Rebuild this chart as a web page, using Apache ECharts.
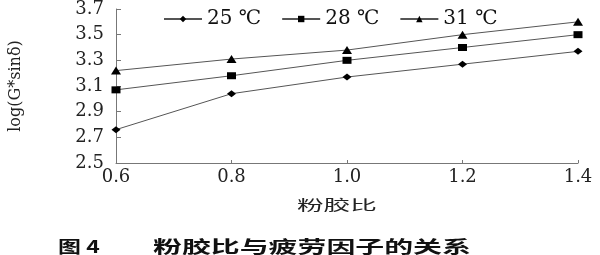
<!DOCTYPE html>
<html><head><meta charset="utf-8">
<script src="https://cdn.jsdelivr.net/npm/echarts@6/dist/echarts.min.js"></script>
<style>html,body{margin:0;padding:0;background:#fff}#c{width:600px;height:255px}</style>
</head><body><div id="c"></div>
<script>
var xValues = [0.6, 0.8, 1.0, 1.2, 1.4];
var s25 = [2.76, 3.04, 3.17, 3.27, 3.37];
var s28 = [3.07, 3.18, 3.30, 3.40, 3.50];
var s31 = [3.22, 3.31, 3.38, 3.50, 3.60];
var seriesNames = ['25 ℃', '28 ℃', '31 ℃'];
var xTitle = '粉胶比';
var yTitle = 'log(G*sinδ)';
var captionNo = '图 4';
var captionText = '粉胶比与疲劳因子的关系';

var chart = echarts.init(document.getElementById('c'));
var serif = '"DejaVu Serif","Liberation Serif",serif';
var cjk = '"Noto Sans CJK SC",sans-serif';
function pairs(arr){ return arr.map(function(v,i){ return [xValues[i], v]; }); }
var symbols = ['diamond', 'rect', 'triangle'];
var sizes = [[9,7],[9,7],[10,8]];
var data = [s25, s28, s31];
chart.setOption({
  animation: false,
  grid: {left: 114, right: 22, top: 5, bottom: 92},
  legend: {
    left: 158, top: 4, itemWidth: 38, itemHeight: 8, itemGap: 20,
    textStyle: {fontFamily: serif, fontSize: 20, color: '#111'},
    data: seriesNames
  },
  xAxis: {
    type: 'value', min: 0.6, max: 1.4, interval: 0.2,
    axisLine: {lineStyle: {color: '#777'}},
    axisTick: {inside: true, length: 3, lineStyle: {color: '#777'}},
    axisLabel: {fontFamily: serif, fontSize: 18, color: '#222', margin: 5,
      formatter: function(v){ return v.toFixed(1); }},
    splitLine: {show: false}
  },
  yAxis: {
    type: 'value', min: 2.5, max: 3.7, interval: 0.2,
    name: yTitle, nameLocation: 'middle', nameGap: 92, nameRotate: 90,
    nameTextStyle: {fontFamily: serif, fontSize: 16, color: '#222'},
    axisLine: {show: true, lineStyle: {color: '#777'}},
    axisTick: {show: true, inside: true, length: 5, lineStyle: {color: '#777'}},
    axisLabel: {fontFamily: serif, fontSize: 18, color: '#222', margin: 12,
      formatter: function(v){ return v.toFixed(1); }},
    splitLine: {show: false}
  },
  graphic: [
    {type: 'text', x: 297, y: 198, scaleX: 1.9,
      style: {text: xTitle, font: '14px ' + cjk, fill: '#222'}},
    {type: 'text', x: 58, y: 238, scaleX: 1.35,
      style: {text: captionNo, font: 'bold 17px ' + cjk, fill: '#111'}},
    {type: 'text', x: 153, y: 238, scaleX: 1.7,
      style: {text: captionText, font: 'bold 17px ' + cjk, fill: '#111'}}
  ],
  series: data.map(function(d,i){
    return {
      name: seriesNames[i], type: 'line', data: pairs(d),
      symbol: symbols[i], symbolSize: sizes[i],
      lineStyle: {color: '#555', width: 1},
      itemStyle: {color: '#000'}
    };
  })
});
</script></body></html>
